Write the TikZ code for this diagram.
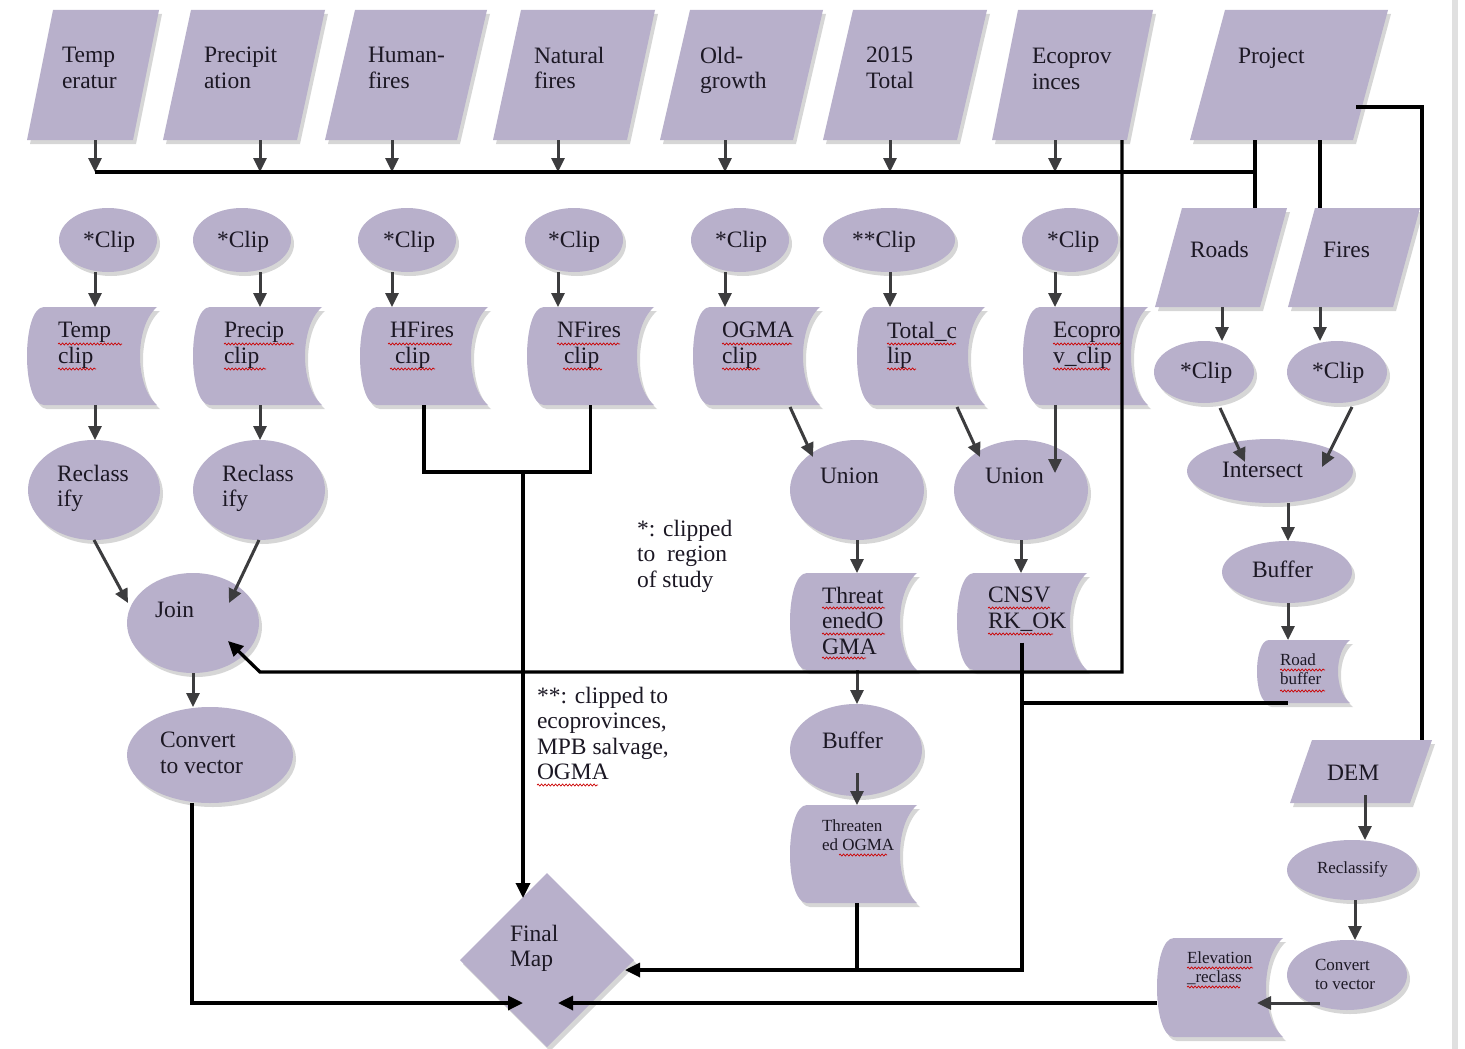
\documentclass[tikz,border=0pt]{standalone}
\usepackage{fontspec}
\setmainfont{Liberation Serif}
\usetikzlibrary{shapes.geometric,arrows.meta,calc,shadows,decorations.pathmorphing}
\definecolor{lav}{RGB}{184,176,203}
\definecolor{arrgray}{RGB}{60,60,62}
\definecolor{txtc}{RGB}{28,24,36}
\newcommand\mainf{\fontsize{23.5}{25.5}\selectfont}
\newcommand\smallf{\fontsize{17}{19}\selectfont}
\tikzset{
 shp/.style={fill=lav, drop shadow={opacity=0.35, shadow xshift=3pt, shadow yshift=-4pt, fill=black!45}},
 ell/.style={ellipse, shp, inner sep=0pt, outer sep=0pt},
 anc/.style={rectangle, inner sep=0pt, outer sep=0pt},
 arr/.style={draw=arrgray, line width=3pt, -{Triangle[length=14pt,width=13pt]}},
 conn/.style={draw=black, line width=3.3pt},
 conna/.style={conn, -{Triangle[length=15pt,width=14pt]}},
 txtbase/.style={anchor=north west, inner sep=0pt, outer sep=0pt, align=left, text=txtc, execute at begin node=\strut},
 txt/.style={txtbase, font=\mainf, yshift=17.85pt},
 stxt/.style={txtbase, font=\smallf, yshift=13.3pt},
 wav/.style={draw=red!80!black, line width=0.7pt, decorate, decoration={snake, amplitude=1pt, segment length=3.5pt}}
}
% name, x left, y top, width, height, bulge
\newcommand\docshape[6]{%
 \fill[shp] ({#2+#6},#3) -- ({#2+#4},#3) .. controls ({#2+#4-4*#6/3},{#3+0.2*#5}) and ({#2+#4-4*#6/3},{#3+0.8*#5}) .. ({#2+#4},{#3+#5}) -- ({#2+#6},{#3+#5}) .. controls ({#2-#6/3},{#3+#5}) and ({#2-#6/3},#3) .. cycle;
 \node[anc, minimum width=#4pt, minimum height=#5pt] (#1) at ({#2+#4/2},{#3+#5/2}) {};}
% name, x bottom-left, y top, bottom width, height, slant
\newcommand\datashape[6]{%
 \fill[shp] (#2,{#3+#5}) -- ({#2+#4},{#3+#5}) -- ({#2+#4+#6},#3) -- ({#2+#6},#3) -- cycle;
 \node[anc, minimum width={(#4+#6)*1pt}, minimum height=#5pt] (#1) at ({#2+(#4+#6)/2},{#3+#5/2}) {};}
\begin{document}
\begin{tikzpicture}[x=1pt,y=-1pt]
\fill[white] (0,0) rectangle (1465,1049);
\useasboundingbox (0,0) rectangle (1465,1049);
\fill[black!12] (1452,0) rectangle (1458,1049);

% input parallelograms
\datashape{tempin}{27}{10}{106}{130}{26}
\datashape{precin}{163}{10}{134}{130}{28}
\datashape{humin}{325}{10}{132}{130}{30}
\datashape{natin}{493}{10}{134}{130}{28}
\datashape{oldin}{660}{10}{133}{130}{30}
\datashape{totin}{823}{10}{134}{130}{30}
\datashape{ecoin}{992}{10}{135}{130}{26}
\datashape{projin}{1190}{10}{163}{130}{35}
\datashape{roadsin}{1155}{208}{105}{99}{27}
\datashape{firesin}{1288}{208}{105}{99}{27}
\datashape{demin}{1290}{740}{120}{63}{22}

% clip ellipses
\node[ell, minimum width=98pt, minimum height=64pt] (clip1) at (108,240) {};
\node[ell, minimum width=98pt, minimum height=64pt] (clip2) at (242,240) {};
\node[ell, minimum width=98pt, minimum height=64pt] (clip3) at (407,240) {};
\node[ell, minimum width=98pt, minimum height=64pt] (clip4) at (574,240) {};
\node[ell, minimum width=98pt, minimum height=64pt] (clip5) at (740,240) {};
\node[ell, minimum width=132pt, minimum height=64pt] (clip6) at (889,240) {};
\node[ell, minimum width=96pt, minimum height=64pt] (clip7) at (1070,240) {};

% stored data shapes
\docshape{tcl}{27}{307}{130}{98}{17}
\docshape{pcl}{193}{307}{129}{98}{17}
\docshape{hcl}{360}{307}{128}{98}{17}
\docshape{ncl}{527}{307}{127}{98}{17}
\docshape{ocl}{693}{307}{127}{98}{17}
\docshape{totcl}{857}{307}{128}{98}{17}
\docshape{ecl}{1023}{307}{125}{98}{17}
\docshape{tog1}{790}{573}{127}{97}{17}
\docshape{cnsv}{957}{573}{130}{97}{17}
\docshape{rbuf}{1257}{640}{93}{63}{12}
\docshape{elev}{1157}{938}{126}{99}{17}

% process ellipses
\node[ell, minimum width=132pt, minimum height=100pt] (recl1) at (94,490) {};
\node[ell, minimum width=132pt, minimum height=100pt] (recl2) at (259,490) {};
\node[ell, minimum width=132pt, minimum height=100pt] (join) at (193,623) {};
\node[ell, minimum width=166pt, minimum height=96pt] (conv) at (210,755) {};
\node[ell, minimum width=134pt, minimum height=100pt] (union1) at (857,490) {};
\node[ell, minimum width=134pt, minimum height=100pt] (union2) at (1021,490) {};
\node[ell, minimum width=132pt, minimum height=92pt] (buf1) at (856,750) {};
\docshape{tog2}{790}{805}{127}{98}{17}
\node[ell, minimum width=100pt, minimum height=62pt] (rclip) at (1204,372) {};
\node[ell, minimum width=100pt, minimum height=62pt] (fclip) at (1337,372) {};
\node[ell, minimum width=166pt, minimum height=64pt] (inter) at (1270,471) {};
\node[ell, minimum width=130pt, minimum height=62pt] (buf2) at (1287,572) {};
\node[ell, minimum width=130pt, minimum height=60pt] (recl3) at (1352,870) {};
\node[ell, minimum width=120pt, minimum height=70pt] (conv2) at (1347,975) {};
\node[diamond, shp, minimum width=174pt, minimum height=174pt, inner sep=0pt, outer sep=0pt] (final) at (547,960) {};

% texts
\node[txt] (ttemp) at (62,65) {Temp\\eratur};
\node[txt] (tprec) at (204,65) {Precipit\\ation};
\node[txt] (thum) at (368,65) {Human-\\fires};
\node[txt] (tnat) at (534,65) {Natural\\fires};
\node[txt] (told) at (700,65) {Old-\\growth};
\node[txt] (ttot) at (866,65) {2015\\Total};
\node[txt] (teco) at (1032,66) {Ecoprov\\inces};
\node[txt] (tproj) at (1238,64) {Project};
\node[txt] (tc1) at (83,247) {*Clip};
\node[txt] (tc2) at (217,247) {*Clip};
\node[txt] (tc3) at (383,247) {*Clip};
\node[txt] (tc4) at (548,247) {*Clip};
\node[txt] (tc5) at (715,247) {*Clip};
\node[txt] (tc6) at (852,247) {**Clip};
\node[txt] (tc7) at (1047,247) {*Clip};
\node[txt] (ttcl) at (58,340) {Temp\\clip};
\node[txt] (tpcl) at (224,340) {Precip\\clip};
\node[txt] (thcl) at (390,340) {HFires\\\hspace*{5pt}clip};
\node[txt] (tncl) at (557,340) {NFires\\\hspace*{7pt}clip};
\node[txt] (tocl) at (722,340) {OGMA\\clip};
\node[txt] (ttotcl) at (887,340) {Total\_c\\lip};
\node[txt] (tecl) at (1053,340) {Ecopro\\v\_clip};
\node[txt] (tr1) at (57,483) {Reclass\\ify};
\node[txt] (tr2) at (222,483) {Reclass\\ify};
\node[txt] (tjoin) at (155,617) {Join};
\node[txt] (tconv) at (160,750) {Convert\\to vector};
\node[txt] (tu1) at (820,483) {Union};
\node[txt] (tu2) at (985,483) {Union};
\node[txt] (ttog1) at (822,605) {Threat\\enedO\\GMA};
\node[txt] (tcnsv) at (988,605) {CNSV\\RK\_OK};
\node[txt] (tbuf1) at (822,748) {Buffer};
\node[stxt] (ttog2) at (822,833) {Threaten\\ed OGMA};
\node[txt] (troads) at (1190,257) {Roads};
\node[txt] (tfires) at (1323,257) {Fires};
\node[txt] (trc) at (1180,378) {*Clip};
\node[txt] (tfc) at (1312,378) {*Clip};
\node[txt] (tinter) at (1222,477) {Intersect};
\node[txt] (tbuf2) at (1252,577) {Buffer};
\node[stxt] (trbuf) at (1280,667) {Road\\buffer};
\node[txt] (tdem) at (1327,780) {DEM};
\node[stxt] (tr3) at (1317,873) {Reclassify};
\node[stxt] (tconv2) at (1315,973) {Convert\\to vector};
\node[stxt] (telev) at (1187,965) {Elevation\\\_reclass};
\node[txt] (tfinal) at (510,943) {Final\\Map};
\node[txt] (tnote1) at (637,538) {*: clipped\\to\ \ region\\of study};
\node[txt] (tnote2) at (537,705) {**: clipped to\\ecoprovinces,\\MPB salvage,\\OGMA};

% spell-check underlines
\foreach \a/\b/\y in {58/122/344,58/96/369,224/294/344,224/266/369,388/452/344,390/435/369,557/620/344,563/602/369,722/792/344,722/760/369,887/956/344,887/916/369,1053/1122/344,1053/1110/369,822/885/608,822/885/634,822/866/658,988/1050/608,988/1053/634,839/887/855,1280/1325/670,1280/1325/691,1187/1253/968,1187/1240/987,537/598/785}
  \draw[wav] (\a,\y) -- (\b,\y);

% helper coordinates
\coordinate (c1) at (95,0);
\coordinate (c2) at (260,0);
\coordinate (c3) at (392,0);
\coordinate (c4) at (558,0);
\coordinate (c5) at (725,0);
\coordinate (c6) at (890,0);
\coordinate (c7) at (1055,0);
\coordinate (busW) at (95,172);
\coordinate (busE) at (1255,172);
\coordinate (pF) at (1320,0);
\coordinate (rx) at (1222,0);
\coordinate (bx) at (1288,0);
\coordinate (dx) at (1365,0);
\coordinate (ex) at (1355,0);
\coordinate (ux) at (857,0);
\coordinate (fj) at (523,472);
\coordinate (jj) at (260,672);
\coordinate (mj) at (1022,970);

% connectors
\foreach \n/\c in {tempin/c1,precin/c2,humin/c3,natin/c4,oldin/c5,totin/c6,ecoin/c7}
  \draw[arr] (\n.south -| \c) -- (busW -| \c);
\draw[conn] (busW) -- (busE);
\draw[conn] (projin.south -| busE) -- (roadsin.north -| busE);
\draw[conn] (projin.south -| pF) -- (firesin.north -| pF);
\draw[conn] ($(projin.south east)+(-32,-33)$) -| ($(demin.north east)+(-10,0)$);
\foreach \a/\b/\c in {clip1/tcl/c1,clip2/pcl/c2,clip3/hcl/c3,clip4/ncl/c4,clip5/ocl/c5,clip6/totcl/c6,clip7/ecl/c7}
  \draw[arr] (\a.south -| \c) -- (\b.north -| \c);
\draw[arr] (tcl.south -| c1) -- (recl1.north -| c1);
\draw[arr] (pcl.south -| c2) -- (recl2.north -| c2);
\draw[arr] (recl1.south) -- ($(join.center)+(-65,-20)$);
\draw[arr] (recl2.south) -- ($(join.center)+(36,-20)$);
\draw[arr] (join.south) -- (conv.north -| join.south);
\draw[conna] ($(conv.south)+(-18,0)$) |- ($(final.center)+(-24,43)$);
\draw[conn] (hcl.south) |- (fj) -| (ncl.south);
\draw[conna] (fj) -- ($(final.center)+(-24,-62)$);
\draw[arr] ($(ocl.south east)+(-30,2)$) -- ($(union1.center)+(-44,-33)$);
\draw[arr] ($(totcl.south east)+(-28,2)$) -- ($(union2.center)+(-41,-33)$);
\draw[arr] (ecl.south -| c7) -- ($(union2.center)+(34,-17)$);
\draw[arr] (union1.south -| ux) -- (tog1.north -| ux);
\draw[arr] (tog1.south -| ux) -- (buf1.north -| ux);
\draw[arr] ($(buf1.center)+(1,23)$) -- (tog2.north -| ux);
\draw[conn] (tog2.south -| ux) -- (ux |- mj);
\draw[arr] (union2.south) -- (cnsv.north -| union2.south);
\draw[conna] ($(cnsv.center)+(0,21)$) -- (mj) -- ($(final.center)+(78,10)$);
\draw[conn] ($(rbuf.south)+(-16,0)$) -- (cnsv.center |- rbuf.south);
\draw[conna] ($(ecoin.south east)+(-31,0)$) |- (jj) -- ($(join.center)+(35,18)$);
\draw[arr] (roadsin.south -| rx) -- (rclip.north -| rx);
\draw[arr] (firesin.south -| pF) -- (fclip.north -| pF);
\draw[arr] ($(rclip.center)+(16,36)$) -- ($(inter.center)+(-25,-9)$);
\draw[arr] ($(fclip.center)+(15,35)$) -- ($(inter.center)+(52,-4)$);
\draw[arr] (inter.south -| bx) -- (buf2.north -| bx);
\draw[arr] (buf2.south -| bx) -- (rbuf.north -| bx);
\draw[arr, shorten <=-8pt] (demin.south -| dx) -- (recl3.north -| dx);
\draw[arr] (recl3.south -| ex) -- (conv2.north -| ex);
\draw[arr] ($(conv2.center)+(-27,28)$) -- ($(elev.center)+(37,15.5)$);
\draw[conna] ($(elev.center)+(-63,15.5)$) -- ($(final.center)+(11,43)$);
\end{tikzpicture}
\end{document}
